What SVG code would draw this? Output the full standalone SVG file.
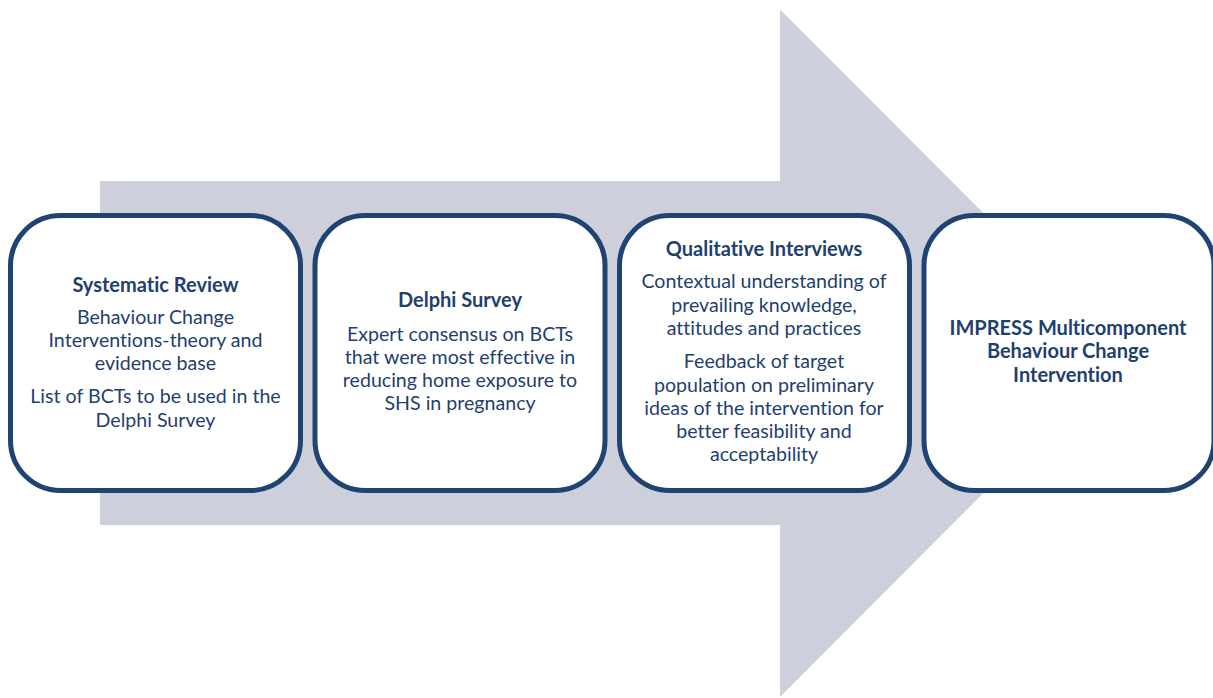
<svg xmlns="http://www.w3.org/2000/svg" width="1213" height="698" viewBox="0 0 1213 698">
<style>
.box{fill:#ffffff;stroke:#1f4473;stroke-width:5}
text{font-family:Lato,"Liberation Sans",sans-serif;font-size:19.6px;fill:#1f3f6e;text-anchor:middle;font-variant-ligatures:none}
.t{font-weight:bold;font-size:20px}
</style>
<rect width="1213" height="698" fill="#ffffff"/>
<g id="arrow">
<polygon points="100,181 780,181 780,9.5 1123,353 780,697 780,525 100,525" fill="#cdd0da"/>
</g>
<g id="connectors"></g>
<g id="node1">
<rect class="box" x="10.5" y="215.5" width="290" height="275" rx="50"/>
<text class="t" x="155.5" y="292">Systematic Review</text>
<text x="155.5" y="324">Behaviour Change</text>
<text x="155.5" y="347">Interventions-theory and</text>
<text x="155.5" y="370">evidence base</text>
<text x="155.5" y="403">List of BCTs to be used in the</text>
<text x="155.5" y="427">Delphi Survey</text>
</g>
<g id="node2">
<rect class="box" x="315" y="215.5" width="290" height="275" rx="50"/>
<text class="t" x="460" y="307">Delphi Survey</text>
<text x="460" y="341">Expert consensus on BCTs</text>
<text x="460" y="364">that were most effective in</text>
<text x="460" y="387">reducing home exposure to</text>
<text x="460" y="410">SHS in pregnancy</text>
</g>
<g id="node3">
<rect class="box" x="619.5" y="215.5" width="290" height="275" rx="50"/>
<text class="t" x="764" y="256">Qualitative Interviews</text>
<text x="764" y="288">Contextual understanding of</text>
<text x="764" y="312">prevailing knowledge,</text>
<text x="764" y="335">attitudes and practices</text>
<text x="764" y="368">Feedback of target</text>
<text x="764" y="392">population on preliminary</text>
<text x="764" y="415">ideas of the intervention for</text>
<text x="764" y="438">better feasibility and</text>
<text x="764" y="461">acceptability</text>
</g>
<g id="node4">
<rect class="box" x="924" y="215.5" width="290" height="275" rx="50"/>
<text class="t" x="1068" y="335">IMPRESS Multicomponent</text>
<text class="t" x="1068" y="358">Behaviour Change</text>
<text class="t" x="1068" y="382">Intervention</text>
</g>
</svg>
